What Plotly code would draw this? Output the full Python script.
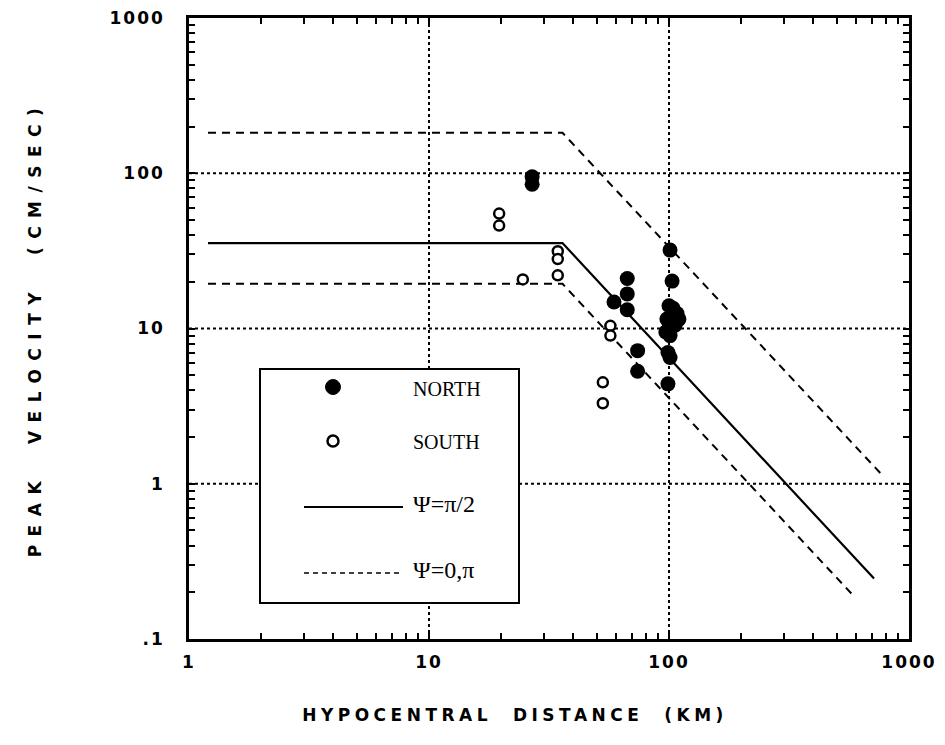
import plotly.graph_objects as go

# ---- data ----
north_x = [26.9, 26.9, 101, 103, 67, 67, 59, 67, 74, 74, 99, 101, 99,
           100, 104, 108, 110, 105, 98, 100, 97, 101, 106]
north_y = [95, 85, 32, 20.2, 21, 16.7, 14.8, 13.2, 7.2, 5.3, 7.0, 6.5, 4.4,
           14, 13.5, 12.5, 11.5, 11, 11.5, 10, 9.5, 9, 10.5]

south_x = [19.6, 19.6, 34.4, 34.4, 34.4, 24.6, 57, 57, 53, 53]
south_y = [55, 46, 31.5, 28, 22, 20.7, 10.4, 9.0, 4.5, 3.3]

# model curves: flat plateau then geometric decay
line_x = [1.2, 36, 715]
solid_y = [35.5, 35.5, 0.245]
upper_x = [1.2, 36, 764]
upper_y = [182, 182, 1.16]
lower_x = [1.2, 36, 596]
lower_y = [19.4, 19.4, 0.185]

x_ticks = [1, 10, 100, 1000]
x_ticktext = ["1", "10", "100", "1000"]
y_ticks = [0.1, 1, 10, 100, 1000]
y_ticktext = [".1", "1", "10", "100", "1000"]

x_grid = [10, 100]
y_grid = [1, 10, 100]

legend_labels = ["NORTH", "SOUTH", "Ψ=π/2", "Ψ=0,π"]

# minor tick positions (2..9 within each decade)
x_minor = [m * d for d in (1, 10, 100) for m in range(2, 10)]
y_minor = [m * d for d in (0.1, 1, 10, 100) for m in range(2, 10)]

# ---- layout constants (page has an 8px body margin) ----
W, H = 929, 729
L, T = 181, 10
PLOT_R, PLOT_B = 901, 631
R, B = W - PLOT_R, H - PLOT_B
PW, PH = PLOT_R - L, PLOT_B - T
OFF = 7  # screen -> figure offset


def px(xp):
    return (xp - OFF - L) / PW


def py(yp):
    return (PLOT_B - (yp - OFF)) / PH


def all_ticks(major, labels, minor):
    lab = dict(zip(major, labels))
    vals = sorted(major + minor)
    return vals, [lab.get(v, "") for v in vals]


xv, xt = all_ticks(x_ticks, x_ticktext, x_minor)
yv, yt = all_ticks(y_ticks, y_ticktext, y_minor)

fig = go.Figure()

fig.add_trace(go.Scatter(x=upper_x, y=upper_y, mode="lines", name="Ψ=0,π (upper)",
                         line=dict(color="black", width=2, dash="8px,6px"),
                         showlegend=False))
fig.add_trace(go.Scatter(x=lower_x, y=lower_y, mode="lines", name="Ψ=0,π (lower)",
                         line=dict(color="black", width=2, dash="8px,6px"),
                         showlegend=False))
fig.add_trace(go.Scatter(x=line_x, y=solid_y, mode="lines", name="Ψ=π/2",
                         line=dict(color="black", width=2.2),
                         showlegend=False))
fig.add_trace(go.Scatter(x=north_x, y=north_y, mode="markers", name="NORTH",
                         marker=dict(symbol="circle", size=15, color="black",
                                     line=dict(width=0)),
                         showlegend=False))
fig.add_trace(go.Scatter(x=south_x, y=south_y, mode="markers", name="SOUTH",
                         marker=dict(symbol="circle", size=10, color="white",
                                     line=dict(color="black", width=2.5)),
                         showlegend=False))

axis_font = dict(family="DejaVu Sans", size=17, color="black", weight="bold")
title_font = dict(family="DejaVu Sans", size=17, color="black", weight="bold")

common = dict(
    type="log", showline=True, linecolor="black", linewidth=2.5, mirror="allticks",
    ticks="inside", ticklen=6, tickwidth=2, tickcolor="black",
    showgrid=False, zeroline=False, tickfont=axis_font, ticklabeloverflow="allow",
)

fig.update_layout(
    xaxis=dict(range=[0, 3], tickmode="array", tickvals=xv, ticktext=xt,
               title=dict(text="HYPOCENTRAL  DISTANCE  (KM)", font=title_font,
                          standoff=38),
               ticklabelstandoff=6, **common),
    yaxis=dict(range=[-1, 3], tickmode="array", tickvals=yv, ticktext=yt,
               title=dict(text="PEAK  VELOCITY  (CM/SEC)", font=title_font,
                          standoff=72),
               ticklabelstandoff=18, **common),
)

# dotted grid at the decades only
grid_line = dict(color="black", width=2, dash="dot")
shapes = []
for v in x_grid:
    shapes.append(dict(type="line", xref="x", yref="paper",
                       x0=v, x1=v, y0=0, y1=1, line=grid_line, layer="below"))
for v in y_grid:
    shapes.append(dict(type="line", xref="paper", yref="y",
                       x0=0, x1=1, y0=v, y1=v, line=grid_line, layer="below"))

# ---- hand-built legend box ----
shapes.append(dict(type="rect", xref="paper", yref="paper",
                   x0=px(259), x1=px(518), y0=py(602), y1=py(368),
                   line=dict(color="black", width=2), fillcolor="white", layer="above"))
shapes.append(dict(type="circle", xref="paper", yref="paper",
                   xsizemode="pixel", ysizemode="pixel",
                   xanchor=px(332), yanchor=py(386),
                   x0=-7.5, x1=7.5, y0=-7.5, y1=7.5,
                   fillcolor="black", line=dict(color="black", width=1), layer="above"))
shapes.append(dict(type="circle", xref="paper", yref="paper",
                   xsizemode="pixel", ysizemode="pixel",
                   xanchor=px(332), yanchor=py(440),
                   x0=-5.5, x1=5.5, y0=-5.5, y1=5.5,
                   fillcolor="white", line=dict(color="black", width=2.5), layer="above"))
shapes.append(dict(type="line", xref="paper", yref="paper",
                   x0=px(303), x1=px(402), y0=py(506), y1=py(506),
                   line=dict(color="black", width=2), layer="above"))
shapes.append(dict(type="line", xref="paper", yref="paper",
                   x0=px(303), x1=px(402), y0=py(572), y1=py(572),
                   line=dict(color="black", width=1.5, dash="5px,4px"), layer="above"))

serif = "Liberation Serif"
annotations = []
for lab, ypix, size in zip(legend_labels, [388, 441, 503, 569], [20, 20, 24, 24]):
    annotations.append(dict(text=lab, xref="paper", yref="paper",
                            x=px(410), y=py(ypix), xanchor="left", yanchor="middle",
                            showarrow=False,
                            font=dict(family=serif, size=size, color="black")))

fig.update_layout(
    width=W, height=H,
    margin=dict(l=L, r=R, t=T, b=B, autoexpand=False),
    paper_bgcolor="white", plot_bgcolor="white",
    shapes=shapes, annotations=annotations,
    showlegend=False,
)

post = """
var gd = document.getElementById('{plot_id}');
gd.querySelectorAll('.xtitle').forEach(function(t){
  t.style.letterSpacing = '4.5px';
  t.setAttribute('x', parseFloat(t.getAttribute('x')) - 34);
});
gd.querySelectorAll('.ytitle').forEach(function(t){ t.style.letterSpacing = '8.5px'; });
gd.querySelectorAll('.xtick text, .ytick text').forEach(function(t){ t.style.letterSpacing = '2px'; });
"""

fig.write_html("out.html", post_script=post)
